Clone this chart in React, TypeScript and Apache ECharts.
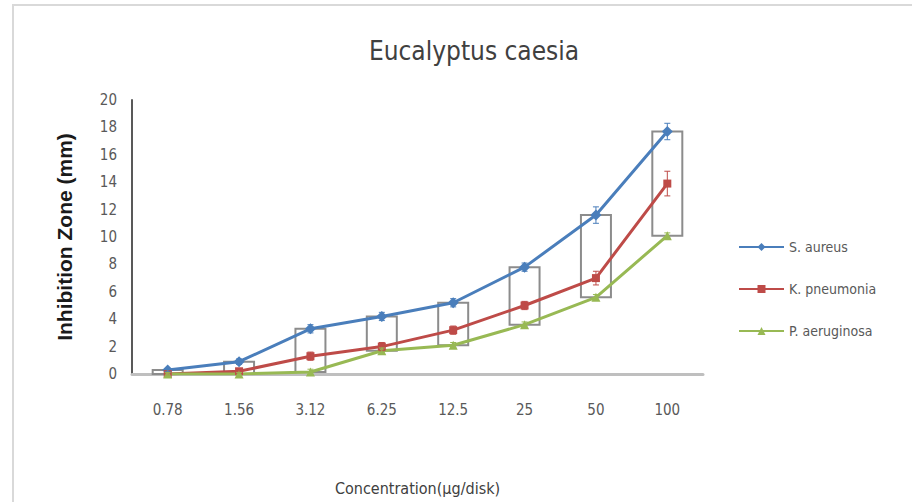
import { useEffect, useRef } from "react";
import * as echarts from "echarts";

const categories = ["0.78", "1.56", "3.12", "6.25", "12.5", "25", "50", "100"];
const seriesNames = ["S. aureus", "K. pneumonia", "P. aeruginosa"];
const sAureus = [0.3, 0.9, 3.3, 4.2, 5.2, 7.8, 11.6, 17.7];
const kPneumonia = [0, 0.2, 1.3, 2.0, 3.2, 5.0, 7.0, 13.9];
const pAeruginosa = [0, 0, 0.15, 1.7, 2.1, 3.6, 5.6, 10.1];
const sAureusErr = [0.1, 0.2, 0.3, 0.3, 0.3, 0.3, 0.6, 0.6];
const kPneumoniaErr = [0.1, 0.1, 0.3, 0.3, 0.3, 0.3, 0.5, 0.9];
const pAeruginosaErr = [0.1, 0.1, 0.2, 0.2, 0.2, 0.2, 0.2, 0.2];
const yTicks = { min: 0, max: 20, interval: 2 };

const colors = ["#4A7EBB", "#BE4B48", "#98B954"];
const font = "'Liberation Sans Narrow', 'DejaVu Sans Condensed', 'Liberation Sans', sans-serif";

export default function App() {
  const ref = useRef<HTMLDivElement>(null);
  useEffect(() => {
    if (!ref.current) return;
    const chart = echarts.init(ref.current, null, { renderer: "svg" });
    const values = [sAureus, kPneumonia, pAeruginosa];
    const errs = [sAureusErr, kPneumoniaErr, pAeruginosaErr];
    const symbols = ["diamond", "rect", "triangle"];
    const symbolSizes = [11, 8, 9];

    const upDown = categories.map((_, i) => [i, sAureus[i], pAeruginosa[i]]);

    const errorSeries = values.map((vals, s) => ({
      type: "custom",
      name: seriesNames[s] + " err",
      z: 5,
      silent: true,
      renderItem: (params: any, api: any) => {
        const i = api.value(0);
        const v = api.value(1);
        const e = api.value(2);
        const top = api.coord([i, v + e]);
        const bot = api.coord([i, v - e]);
        const cap = 3;
        const st = { stroke: colors[s], lineWidth: 1 };
        return {
          type: "group",
          children: [
            { type: "line", shape: { x1: top[0], y1: top[1], x2: bot[0], y2: bot[1] }, style: st },
            { type: "line", shape: { x1: top[0] - cap, y1: top[1], x2: top[0] + cap, y2: top[1] }, style: st },
            { type: "line", shape: { x1: bot[0] - cap, y1: bot[1], x2: bot[0] + cap, y2: bot[1] }, style: st },
          ],
        };
      },
      data: vals.map((v, i) => [i, v, errs[s][i]]),
    }));

    chart.setOption({
      animation: false,
      title: {
        text: "Eucalyptus caesia",
        left: 469,
        textAlign: "center",
        top: 33,
        textStyle: { fontFamily: font, fontSize: 26, fontWeight: "normal", color: "#404040" },
      },
      graphic: [
        {
          type: "rect",
          shape: { x: 13, y: 5, width: 1000, height: 1000 },
          style: { fill: "none", stroke: "#D9D9D9", lineWidth: 2 },
          silent: true,
          z: -10,
        },
      ],
      legend: {
        orient: "vertical",
        left: 733,
        top: 235,
        itemWidth: 45,
        itemHeight: 10,
        itemGap: 28,
        data: seriesNames,
        textStyle: { fontFamily: font, fontSize: 14, color: "#595959" },
      },
      grid: { left: 132, right: 209, top: 100, bottom: 128 },
      xAxis: {
        type: "category",
        data: categories,
        boundaryGap: true,
        axisLine: { lineStyle: { color: "#BFBFBF", width: 3 } },
        axisTick: { show: false },
        axisLabel: { fontFamily: font, fontSize: 15, color: "#595959", margin: 28 },
        name: "Concentration(µg/disk)",
        nameLocation: "middle",
        nameGap: 106,
        nameTextStyle: { fontFamily: font, fontSize: 16, color: "#404040" },
      },
      yAxis: {
        type: "value",
        min: yTicks.min,
        max: yTicks.max,
        interval: yTicks.interval,
        splitLine: { show: false },
        axisLine: { show: true, lineStyle: { color: "#595959", width: 2 } },
        axisTick: { show: false },
        axisLabel: { fontFamily: font, fontSize: 15, color: "#595959", margin: 15 },
        name: "Inhibition Zone (mm)",
        nameLocation: "middle",
        nameGap: 57,
        nameTextStyle: { fontFamily: "'Liberation Sans', sans-serif", fontSize: 21, fontWeight: "bold", color: "#1a1a1a" },
      },
      series: [
        {
          type: "custom",
          name: "updown",
          z: 1,
          silent: true,
          renderItem: (params: any, api: any) => {
            const i = api.value(0);
            const hi = api.coord([i, api.value(1)]);
            const lo = api.coord([i, api.value(2)]);
            const w = 30;
            return {
              type: "rect",
              shape: { x: hi[0] - w / 2, y: hi[1], width: w, height: Math.max(lo[1] - hi[1], 1) },
              style: { fill: "none", stroke: "#8C8C8C", lineWidth: 2 },
            };
          },
          data: upDown,
        },
        ...values.map((vals, s) => ({
          type: "line",
          name: seriesNames[s],
          data: vals,
          z: 3,
          symbol: symbols[s],
          symbolSize: symbolSizes[s],
          showAllSymbol: true,
          lineStyle: { color: colors[s], width: 3 },
          itemStyle: { color: colors[s] },
        })),
        ...errorSeries,
      ],
    });
    return () => chart.dispose();
  }, []);
  return <div ref={ref} style={{ position: "fixed", left: 0, top: 0, width: 912, height: 502, background: "#fff" }} />;
}
